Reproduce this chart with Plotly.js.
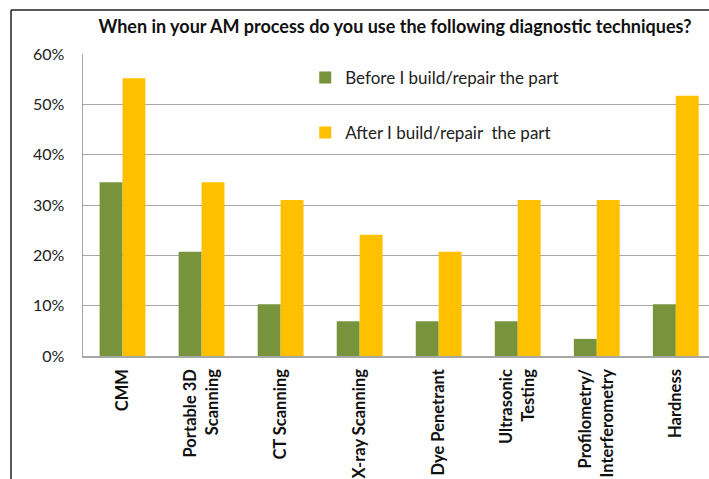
<!DOCTYPE html>
<html><head><meta charset="utf-8">
<script src="https://cdn.plot.ly/plotly-3.0.1.min.js"></script>
<style>html,body{margin:0;padding:0;background:#fff;overflow:hidden}</style>
</head><body><div id="chart" style="width:709px;height:479px"></div>
<script>
var categories = ["CMM", "Portable 3D<br>Scanning", "CT Scanning", "X-ray Scanning", "Dye Penetrant", "Ultrasonic<br>Testing", "Profilometry/<br>Interferometry", "Hardness"];
var beforeVals = [0.345, 0.207, 0.103, 0.069, 0.069, 0.069, 0.034, 0.103];
var afterVals  = [0.552, 0.345, 0.310, 0.241, 0.207, 0.310, 0.310, 0.517];
var seriesNames = ["Before I build/repair the part", "After I build/repair  the part"];
var yTicks = [0, 0.1, 0.2, 0.3, 0.4, 0.5, 0.6];

var xIdx = categories.map(function(_, i){ return i; });
var font = "Lato, 'Open Sans', sans-serif";
var traces = [
  {type:'bar', name:seriesNames[0], x:xIdx, y:beforeVals, marker:{color:'#77933C'}, legendgroup:'a'},
  {type:'bar', name:seriesNames[1], x:xIdx, y:afterVals, marker:{color:'#FFC000'}, legendgroup:'b'}
];
var layout = {
  width:709, height:479,
  margin:{l:83, r:0, t:54, b:123},
  paper_bgcolor:'#fff', plot_bgcolor:'#fff',
  font:{family:font, color:'#222'},
  title:{text:'<b>When in your AM process do you use the following diagnostic techniques?</b>',
         font:{size:18, color:'#111', family:font}, x:0.557, xanchor:'center', y:0.944, yanchor:'middle'},
  barmode:'group', bargap:0.42, bargroupgap:0,
  xaxis:{range:[-0.5, 7.42], tickvals:xIdx, ticktext:categories.map(function(c){return '<b>'+c+'</b>';}),
         tickangle:-90, tickfont:{size:16.5, color:'#111', family:font}, ticklabelstandoff:5,
         showline:true, linecolor:'#A6A6A6', linewidth:1.5, showgrid:false, ticks:'', fixedrange:true},
  yaxis:{range:[0,0.6], tickvals:yTicks, tickformat:'.0%', tickfont:{size:16, color:'#222', family:font},
         showgrid:true, gridcolor:'#A6A6A6', gridwidth:1, showline:true, linecolor:'#A6A6A6', linewidth:1.5,
         zeroline:false, ticks:'', ticklabelstandoff:14, fixedrange:true},
  showlegend:true,
  legend:{x:0.355, y:0.83, xanchor:'left', yanchor:'middle', bgcolor:'rgba(0,0,0,0)',
          font:{size:17, color:'#222', family:font}, traceorder:'grouped', tracegroupgap:30},
  shapes:[
    {type:'line', xref:'paper', yref:'paper', x0:-0.115, x1:-0.115, y0:1.1457, y1:-0.41, line:{color:'#222', width:1.5}},
    {type:'line', xref:'paper', yref:'paper', x0:-0.115, x1:1.01, y0:1.1457, y1:1.1457, line:{color:'#222', width:1.5}}
  ]
};
Plotly.newPlot('chart', traces, layout, {displayModeBar:false, staticPlot:true});
</script></body></html>
